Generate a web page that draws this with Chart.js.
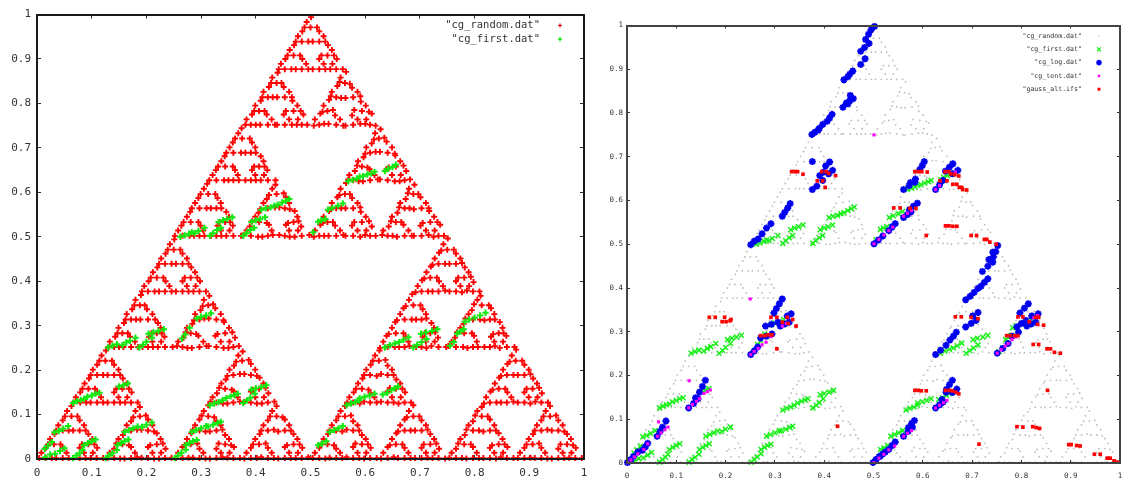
<!DOCTYPE html>
<html>
<head>
<meta charset="utf-8">
<title>cg plots</title>
<script src="https://cdn.jsdelivr.net/npm/chart.js@4"></script>
<style>
  body { margin: 0; background: #fff; overflow: hidden; }
  canvas { position: absolute; top: 0; }
  #plotLeft { left: 0; }
  #plotRight { left: 596px; }
</style>
</head>
<body>
<canvas id="plotLeft" width="592" height="481"></canvas>
<canvas id="plotRight" width="530" height="481"></canvas>
<script>
// values
const tickLabels = ['0', '0.1', '0.2', '0.3', '0.4', '0.5', '0.6', '0.7', '0.8', '0.9', '1'];
const cgRandomX = [
  .004,.027,.016,.035,.058,.047,.020,.043,.032,.066,.089,.078,.098,.121,.110,.082,.105,.094,.035,.058,.047,.066,.089,.078,.051,.074,.063,
  .129,.152,.141,.160,.183,.172,.145,.168,.157,.191,.214,.203,.223,.246,.235,.207,.230,.219,.160,.183,.172,.191,.214,.203,.176,.199,.188,
  .067,.090,.079,.098,.121,.110,.083,.106,.095,.129,.152,.141,.161,.184,.173,.145,.168,.157,.098,.121,.110,.129,.152,.141,.114,.137,.126,
  .254,.277,.266,.285,.308,.297,.270,.293,.282,.316,.339,.328,.348,.371,.360,.332,.355,.344,.285,.308,.297,.316,.339,.328,.301,.324,.313,
  .379,.402,.391,.410,.433,.422,.395,.418,.407,.441,.464,.453,.473,.496,.485,.457,.480,.469,.410,.433,.422,.441,.464,.453,.426,.449,.438,
  .317,.340,.329,.348,.371,.360,.333,.356,.345,.379,.402,.391,.411,.434,.423,.395,.418,.407,.348,.371,.360,.379,.402,.391,.364,.387,.376,
  .131,.150,.143,.158,.185,.170,.147,.166,.159,.193,.212,.205,.221,.248,.233,.209,.228,.221,.162,.181,.174,.189,.216,.201,.178,.197,.190,
  .256,.275,.268,.283,.310,.295,.272,.291,.284,.314,.341,.326,.350,.369,.362,.330,.357,.342,.287,.306,.299,.314,.341,.326,.303,.322,.315,
  .192,.215,.204,.223,.246,.235,.208,.231,.220,.254,.277,.266,.286,.309,.298,.270,.293,.282,.223,.246,.235,.254,.277,.266,.239,.262,.251,
  .504,.527,.516,.535,.558,.547,.520,.543,.532,.566,.589,.578,.598,.621,.610,.582,.605,.594,.535,.558,.547,.566,.589,.578,.551,.574,.563,
  .629,.652,.641,.660,.683,.672,.645,.668,.657,.691,.714,.703,.723,.746,.735,.707,.730,.719,.660,.683,.672,.691,.714,.703,.676,.699,.688,
  .567,.590,.579,.598,.621,.610,.583,.606,.595,.629,.652,.641,.661,.684,.673,.645,.668,.657,.598,.621,.610,.629,.652,.641,.614,.637,.626,
  .754,.777,.766,.785,.808,.797,.770,.793,.782,.816,.839,.828,.848,.871,.860,.832,.855,.844,.785,.808,.797,.816,.839,.828,.801,.824,.813,
  .879,.902,.891,.910,.933,.922,.895,.918,.907,.941,.964,.953,.973,.996,.985,.957,.980,.969,.910,.933,.922,.941,.964,.953,.926,.949,.938,
  .817,.840,.829,.848,.871,.860,.833,.856,.845,.879,.902,.891,.911,.934,.923,.895,.918,.907,.848,.871,.860,.879,.902,.891,.864,.887,.876,
  .627,.654,.639,.662,.681,.674,.643,.670,.655,.693,.712,.705,.721,.748,.733,.709,.728,.721,.658,.685,.670,.693,.712,.705,.674,.701,.686,
  .752,.779,.764,.787,.806,.799,.768,.795,.780,.818,.837,.830,.846,.873,.858,.834,.853,.846,.783,.810,.795,.818,.837,.830,.799,.826,.811,
  .692,.715,.704,.723,.746,.735,.708,.731,.720,.754,.777,.766,.786,.809,.798,.770,.793,.782,.723,.746,.735,.754,.777,.766,.739,.762,.751,
  .252,.279,.264,.287,.306,.299,.268,.295,.280,.318,.337,.330,.346,.373,.358,.334,.353,.346,.283,.310,.295,.318,.337,.330,.299,.326,.311,
  .377,.404,.389,.412,.431,.424,.393,.420,.405,.443,.462,.455,.471,.498,.483,.459,.478,.471,.408,.435,.420,.443,.462,.455,.424,.451,.436,
  .315,.342,.327,.350,.369,.362,.331,.358,.343,.381,.400,.393,.409,.436,.421,.397,.416,.409,.346,.373,.358,.381,.400,.393,.362,.389,.374,
  .506,.525,.518,.533,.560,.545,.522,.541,.534,.564,.591,.576,.600,.619,.612,.580,.607,.592,.537,.556,.549,.564,.591,.576,.553,.572,.565,
  .631,.650,.643,.658,.685,.670,.647,.666,.659,.689,.716,.701,.725,.744,.737,.705,.732,.717,.662,.681,.674,.689,.716,.701,.678,.697,.690,
  .569,.588,.581,.596,.623,.608,.585,.604,.597,.627,.654,.639,.663,.682,.675,.643,.670,.655,.600,.619,.612,.627,.654,.639,.616,.635,.628,
  .381,.400,.393,.408,.435,.420,.397,.416,.409,.439,.466,.451,.475,.494,.487,.455,.482,.467,.412,.431,.424,.439,.466,.451,.428,.447,.440,
  .506,.525,.518,.533,.560,.545,.522,.541,.534,.564,.591,.576,.600,.619,.612,.580,.607,.592,.537,.556,.549,.564,.591,.576,.553,.572,.565,
  .442,.465,.454,.473,.496,.485,.458,.481,.470,.504,.527,.516,.536,.559,.548,.520,.543,.532,.473,.496,.485,.504,.527,.516,.489,.512,.501
];
const cgRandomY = [
  .002,.002,.025,.002,.002,.025,.033,.033,.056,.002,.002,.025,.002,.002,.025,.033,.033,.056,.064,.064,.087,.064,.064,.087,.096,.096,.119,
  .003,.001,.023,.001,.004,.027,.035,.031,.054,.003,.001,.027,.001,.003,.023,.031,.035,.058,.062,.066,.085,.066,.062,.089,.094,.098,.117,
  .127,.127,.150,.127,.127,.150,.158,.158,.181,.127,.127,.150,.127,.127,.150,.158,.158,.181,.189,.189,.212,.189,.189,.212,.221,.221,.244,
  .002,.003,.027,.003,.001,.023,.031,.035,.058,.001,.004,.023,.003,.002,.027,.035,.031,.054,.066,.062,.089,.062,.066,.085,.098,.094,.121,
  .001,.002,.025,.004,.002,.025,.033,.035,.056,.001,.002,.027,.002,.004,.025,.031,.033,.056,.064,.066,.087,.062,.064,.089,.096,.094,.119,
  .129,.125,.148,.125,.129,.152,.160,.156,.179,.129,.125,.152,.125,.129,.148,.156,.160,.183,.187,.191,.210,.191,.187,.214,.219,.223,.242,
  .252,.252,.275,.252,.252,.275,.283,.283,.306,.252,.252,.275,.252,.252,.275,.283,.283,.306,.314,.314,.337,.314,.314,.337,.346,.346,.369,
  .254,.250,.273,.250,.254,.277,.285,.281,.304,.254,.250,.277,.250,.254,.273,.281,.285,.308,.312,.316,.335,.316,.312,.339,.344,.348,.367,
  .377,.377,.400,.377,.377,.400,.408,.408,.431,.377,.377,.400,.377,.377,.400,.408,.408,.431,.439,.439,.462,.439,.439,.462,.471,.471,.494,
  .002,.001,.025,.003,.002,.023,.033,.031,.056,.004,.002,.027,.001,.002,.025,.035,.033,.054,.064,.062,.087,.066,.064,.085,.096,.098,.119,
  .001,.004,.027,.002,.002,.025,.031,.033,.058,.002,.003,.025,.002,.001,.023,.033,.035,.056,.062,.064,.089,.064,.066,.087,.094,.096,.121,
  .127,.125,.150,.129,.127,.148,.158,.156,.181,.129,.127,.152,.125,.127,.150,.160,.158,.179,.189,.187,.212,.191,.189,.210,.221,.223,.244,
  .003,.002,.023,.001,.002,.027,.035,.033,.054,.002,.001,.025,.004,.002,.027,.031,.033,.058,.066,.064,.085,.062,.064,.089,.098,.096,.117,
  .002,.003,.025,.002,.001,.025,.033,.035,.056,.001,.002,.023,.003,.002,.025,.033,.031,.056,.064,.066,.087,.064,.062,.087,.096,.098,.119,
  .125,.127,.152,.127,.129,.150,.156,.158,.183,.127,.125,.150,.129,.127,.148,.158,.160,.181,.187,.189,.214,.189,.191,.212,.219,.221,.246,
  .250,.252,.277,.252,.254,.275,.281,.283,.308,.252,.250,.275,.254,.252,.273,.283,.285,.306,.312,.314,.339,.314,.316,.337,.344,.346,.371,
  .254,.252,.273,.250,.252,.277,.285,.283,.304,.252,.254,.275,.250,.252,.277,.281,.283,.308,.316,.314,.335,.312,.314,.339,.348,.346,.367,
  .375,.377,.402,.377,.379,.400,.406,.408,.433,.377,.375,.400,.379,.377,.398,.408,.410,.431,.437,.439,.464,.439,.441,.462,.469,.471,.496,
  .502,.502,.525,.502,.502,.525,.533,.533,.556,.502,.502,.525,.502,.502,.525,.533,.533,.556,.564,.564,.587,.564,.564,.587,.596,.596,.619,
  .504,.500,.523,.500,.504,.527,.535,.531,.554,.504,.500,.527,.500,.504,.523,.531,.535,.558,.562,.566,.585,.566,.562,.589,.594,.598,.617,
  .627,.627,.650,.627,.627,.650,.658,.658,.681,.627,.627,.650,.627,.627,.650,.658,.658,.681,.689,.689,.712,.689,.689,.712,.721,.721,.744,
  .500,.502,.527,.502,.504,.525,.531,.533,.558,.502,.500,.525,.504,.502,.523,.533,.535,.556,.562,.564,.589,.564,.566,.587,.594,.596,.621,
  .504,.502,.523,.500,.502,.527,.535,.533,.554,.502,.504,.525,.500,.502,.527,.531,.533,.558,.566,.564,.585,.562,.564,.589,.598,.596,.617,
  .629,.625,.648,.625,.629,.652,.660,.656,.679,.629,.625,.652,.625,.629,.648,.656,.660,.683,.687,.691,.710,.691,.687,.714,.719,.723,.742,
  .752,.752,.775,.752,.752,.775,.783,.783,.806,.752,.752,.775,.752,.752,.775,.783,.783,.806,.814,.814,.837,.814,.814,.837,.846,.846,.869,
  .750,.754,.777,.754,.750,.773,.781,.785,.808,.750,.754,.773,.754,.750,.777,.785,.781,.804,.816,.812,.839,.812,.816,.835,.848,.844,.871,
  .877,.877,.900,.877,.877,.900,.908,.908,.931,.877,.877,.900,.877,.877,.900,.908,.908,.931,.939,.939,.962,.939,.939,.962,.971,.971,.994
];
// more of the same cloud, the runs along the small triangle bases
const cgRandomBaseX = [
  .016,.047,.031,.078,.109,.094,.047,.078,.063,
  .141,.172,.156,.203,.234,.219,.172,.203,.188,
  .079,.110,.094,.141,.172,.156,.110,.141,.125,
  .266,.297,.281,.328,.359,.344,.297,.328,.313,
  .391,.422,.406,.453,.484,.469,.422,.453,.438,
  .328,.359,.344,.391,.422,.406,.359,.391,.375,
  .141,.172,.156,.203,.234,.219,.172,.203,.188,
  .266,.297,.281,.328,.359,.344,.297,.328,.313,
  .203,.234,.219,.266,.297,.281,.234,.266,.250,
  .516,.547,.531,.578,.609,.594,.547,.578,.563,
  .641,.672,.656,.703,.734,.719,.672,.703,.688,
  .578,.609,.594,.641,.672,.656,.609,.641,.625,
  .766,.797,.781,.828,.859,.844,.797,.828,.813,
  .891,.922,.906,.953,.984,.969,.922,.953,.938,
  .828,.859,.844,.891,.922,.906,.859,.891,.875,
  .641,.672,.656,.703,.734,.719,.672,.703,.688,
  .766,.797,.781,.828,.859,.844,.797,.828,.813,
  .703,.734,.719,.766,.797,.781,.734,.766,.750,
  .266,.297,.281,.328,.359,.344,.297,.328,.313,
  .391,.422,.406,.453,.484,.469,.422,.453,.438,
  .328,.359,.344,.391,.422,.406,.359,.391,.375,
  .516,.547,.531,.578,.609,.594,.547,.578,.563,
  .641,.672,.656,.703,.734,.719,.672,.703,.688,
  .578,.609,.594,.641,.672,.656,.609,.641,.625,
  .391,.422,.406,.453,.484,.469,.422,.453,.438,
  .516,.547,.531,.578,.609,.594,.547,.578,.563,
  .453,.484,.469,.516,.547,.531,.484,.516,.500
];
const cgRandomBaseY = [
  .002,.002,.033,.002,.002,.033,.064,.064,.096,
  .002,.002,.033,.002,.002,.033,.064,.064,.096,
  .127,.127,.158,.127,.127,.158,.189,.189,.221,
  .002,.002,.033,.002,.002,.033,.064,.064,.096,
  .002,.002,.033,.002,.002,.033,.064,.064,.096,
  .127,.127,.158,.127,.127,.158,.189,.189,.221,
  .252,.252,.283,.252,.252,.283,.314,.314,.346,
  .252,.252,.283,.252,.252,.283,.314,.314,.346,
  .377,.377,.408,.377,.377,.408,.439,.439,.471,
  .002,.002,.033,.002,.002,.033,.064,.064,.096,
  .002,.002,.033,.002,.002,.033,.064,.064,.096,
  .127,.127,.158,.127,.127,.158,.189,.189,.221,
  .002,.002,.033,.002,.002,.033,.064,.064,.096,
  .002,.002,.033,.002,.002,.033,.064,.064,.096,
  .127,.127,.158,.127,.127,.158,.189,.189,.221,
  .252,.252,.283,.252,.252,.283,.314,.314,.346,
  .252,.252,.283,.252,.252,.283,.314,.314,.346,
  .377,.377,.408,.377,.377,.408,.439,.439,.471,
  .502,.502,.533,.502,.502,.533,.564,.564,.596,
  .502,.502,.533,.502,.502,.533,.564,.564,.596,
  .627,.627,.658,.627,.627,.658,.689,.689,.721,
  .502,.502,.533,.502,.502,.533,.564,.564,.596,
  .502,.502,.533,.502,.502,.533,.564,.564,.596,
  .627,.627,.658,.627,.627,.658,.689,.689,.721,
  .752,.752,.783,.752,.752,.783,.814,.814,.846,
  .752,.752,.783,.752,.752,.783,.814,.814,.846,
  .877,.877,.908,.877,.877,.908,.939,.939,.971
];
// and the ones along the slanted sides
const cgRandomSideX = [
  .008,.054,.024,.086,.102,.101,.039,.086,.055,
  .133,.179,.149,.211,.227,.226,.164,.211,.180,
  .071,.117,.087,.149,.165,.164,.102,.149,.118,
  .258,.304,.274,.336,.352,.351,.289,.336,.305,
  .383,.429,.399,.461,.477,.476,.414,.461,.430,
  .321,.367,.337,.399,.415,.414,.352,.399,.368,
  .133,.179,.149,.211,.227,.226,.164,.211,.180,
  .258,.304,.274,.336,.352,.351,.289,.336,.305,
  .196,.242,.212,.274,.290,.289,.227,.274,.243,
  .508,.554,.524,.586,.602,.601,.539,.586,.555,
  .633,.679,.649,.711,.727,.726,.664,.711,.680,
  .571,.617,.587,.649,.665,.664,.602,.649,.618,
  .758,.804,.774,.836,.852,.851,.789,.836,.805,
  .883,.929,.899,.961,.977,.976,.914,.961,.930,
  .821,.867,.837,.899,.915,.914,.852,.899,.868,
  .633,.679,.649,.711,.727,.726,.664,.711,.680,
  .758,.804,.774,.836,.852,.851,.789,.836,.805,
  .696,.742,.712,.774,.790,.789,.727,.774,.743,
  .258,.304,.274,.336,.352,.351,.289,.336,.305,
  .383,.429,.399,.461,.477,.476,.414,.461,.430,
  .321,.367,.337,.399,.415,.414,.352,.399,.368,
  .508,.554,.524,.586,.602,.601,.539,.586,.555,
  .633,.679,.649,.711,.727,.726,.664,.711,.680,
  .571,.617,.587,.649,.665,.664,.602,.649,.618,
  .383,.429,.399,.461,.477,.476,.414,.461,.430,
  .508,.554,.524,.586,.602,.601,.539,.586,.555,
  .446,.492,.462,.524,.540,.539,.477,.524,.493
];
const cgRandomSideY = [
  .014,.014,.045,.014,.014,.045,.076,.076,.108,
  .014,.014,.045,.014,.014,.045,.076,.076,.108,
  .139,.139,.170,.139,.139,.170,.201,.201,.233,
  .014,.014,.045,.014,.014,.045,.076,.076,.108,
  .014,.014,.045,.014,.014,.045,.076,.076,.108,
  .139,.139,.170,.139,.139,.170,.201,.201,.233,
  .264,.264,.295,.264,.264,.295,.326,.326,.358,
  .264,.264,.295,.264,.264,.295,.326,.326,.358,
  .389,.389,.420,.389,.389,.420,.451,.451,.483,
  .014,.014,.045,.014,.014,.045,.076,.076,.108,
  .014,.014,.045,.014,.014,.045,.076,.076,.108,
  .139,.139,.170,.139,.139,.170,.201,.201,.233,
  .014,.014,.045,.014,.014,.045,.076,.076,.108,
  .014,.014,.045,.014,.014,.045,.076,.076,.108,
  .139,.139,.170,.139,.139,.170,.201,.201,.233,
  .264,.264,.295,.264,.264,.295,.326,.326,.358,
  .264,.264,.295,.264,.264,.295,.326,.326,.358,
  .389,.389,.420,.389,.389,.420,.451,.451,.483,
  .514,.514,.545,.514,.514,.545,.576,.576,.608,
  .514,.514,.545,.514,.514,.545,.576,.576,.608,
  .639,.639,.670,.639,.639,.670,.701,.701,.733,
  .514,.514,.545,.514,.514,.545,.576,.576,.608,
  .514,.514,.545,.514,.514,.545,.576,.576,.608,
  .639,.639,.670,.639,.639,.670,.701,.701,.733,
  .764,.764,.795,.764,.764,.795,.826,.826,.858,
  .764,.764,.795,.764,.764,.795,.826,.826,.858,
  .889,.889,.920,.889,.889,.920,.951,.951,.983
];
const cgFirst = [
  [.014,.023],[.02,.03],[.027,.038],[.015,.004],[.024,.01],[.033,.012],[.042,.018],[.05,.024],
  [.032,.06],[.04,.063],[.048,.068],[.057,.074],[.066,.126],[.073,.13],[.08,.133],[.086,.135],[.092,.14],[.1,.143],[.107,.147],[.114,.149],
  [.15,.163],[.158,.166],[.166,.17],[.066,.002],[.072,.008],[.078,.013],[.083,.02],[.086,.031],[.093,.036],[.1,.04],[.107,.044],
  [.126,.002],[.132,.008],[.138,.013],[.146,.02],[.147,.031],[.154,.036],[.16,.04],[.167,.044],
  [.16,.061],[.168,.065],[.176,.069],[.184,.073],[.192,.072],[.2,.077],[.21,.082],
  [.13,.251],[.138,.255],[.146,.258],[.156,.256],[.163,.262],[.17,.266],[.18,.273],[.187,.251],[.194,.257],[.2,.264],[.21,.273],
  [.204,.282],[.213,.285],[.222,.288],[.232,.292],
  [.252,.002],[.258,.008],[.264,.014],[.272,.021],[.272,.031],[.279,.036],[.285,.04],[.292,.043],
  [.283,.061],[.291,.065],[.3,.069],[.309,.074],[.313,.073],[.322,.077],[.33,.081],[.336,.084],
  [.316,.121],[.324,.125],[.332,.128],[.339,.132],[.346,.137],[.354,.141],[.361,.144],[.367,.147],
  [.377,.126],[.384,.132],[.39,.138],[.398,.147],[.392,.156],[.4,.159],[.41,.162],[.419,.166],
  [.265,.271],[.271,.28],[.279,.295],[.292,.316],[.3,.32],[.309,.323],[.318,.328],
  [.262,.5],[.27,.503],[.278,.507],[.283,.51],[.288,.508],[.295,.513],[.306,.52],
  [.316,.502],[.322,.508],[.329,.515],[.336,.52],[.332,.533],[.34,.537],[.348,.54],[.357,.544],
  [.377,.502],[.383,.508],[.39,.515],[.397,.52],[.392,.533],[.4,.537],[.408,.54],[.417,.544],
  [.41,.561],[.418,.564],[.427,.566],[.434,.57],[.44,.572],[.448,.577],[.455,.581],[.461,.585],
  [.569,.625],[.577,.628],[.585,.631],[.59,.635],[.596,.636],[.604,.64],[.611,.643],[.617,.646],
  [.636,.648],[.642,.653],[.65,.657],[.656,.662],[.532,.561],[.54,.565],[.55,.57],[.559,.575],
  [.514,.534],[.52,.537],[.527,.54],[.505,.51],
  [.636,.251],[.645,.256],[.654,.26],[.662,.263],[.67,.268],[.679,.274],
  [.688,.251],[.695,.257],[.703,.263],[.712,.27],[.702,.282],[.711,.285],[.722,.288],[.732,.292],
  [.566,.121],[.574,.125],[.582,.128],[.589,.132],[.59,.137],[.599,.14],[.608,.143],[.617,.147],
  [.535,.061],[.543,.065],[.551,.069],[.559,.074],[.514,.031],[.521,.035],[.529,.04],
  [.632,.145],[.64,.149],[.648,.155],[.654,.159],[.66,.163],
  [.782,.309],[.79,.314],[.8,.318],[.81,.323],[.82,.329],[.755,.255],[.762,.263],[.768,.282],[.774,.287],[.78,.292]
];
const cgLog = [
  [.375,.751],[.381,.756],[.388,.761],[.39,.765],[.397,.774],[.406,.781],[.411,.789],[.416,.797],
  [.438,.813],[.448,.821],[.445,.823],[.452,.828],[.459,.833],[.453,.84],
  [.44,.876],[.448,.883],[.452,.889],[.458,.896],[.474,.911],[.483,.924],[.474,.941],[.482,.95],[.491,.959],
  [.484,.968],[.49,.98],[.495,.99],[.502,.998],
  [.251,.499],[.258,.507],[.266,.512],[.274,.524],[.283,.537],[.292,.547],
  [.315,.564],[.32,.573],[.326,.583],[.331,.593],[.376,.625],[.385,.633],[.397,.646],[.391,.657],[.399,.665],
  [.403,.679],[.411,.688],[.409,.661],[.417,.669],[.376,.689],
  [.298,.343],[.303,.353],[.309,.364],[.315,.375],[.325,.336],[.333,.341],
  [.001,.001],[.008,.008],[.013,.015],[.022,.025],[.031,.029],[.037,.037],[.042,.045],
  [.061,.061],[.067,.072],[.072,.082],[.079,.096],[.125,.126],[.135,.136],[.144,.147],[.139,.149],[.147,.162],[.153,.175],[.159,.189],
  [.251,.248],[.258,.256],[.265,.265],[.271,.286],[.283,.29],[.294,.295],[.281,.313],[.293,.317],[.306,.322],[.311,.313],[.32,.318],[.329,.322],
  [.561,.625],[.572,.634],[.584,.642],[.575,.641],[.585,.649],[.594,.671],[.599,.68],[.603,.689],
  [.626,.625],[.634,.636],[.641,.646],[.646,.667],[.654,.676],[.661,.684],[.66,.661],[.671,.669],
  [.561,.561],[.569,.568],[.576,.574],[.573,.579],[.581,.587],[.589,.594],
  [.501,.501],[.51,.51],[.519,.519],[.531,.531],[.538,.54],[.544,.547],
  [.743,.471],[.748,.483],[.752,.497],[.734,.465],[.742,.482],[.721,.438],[.732,.45],[.742,.459],
  [.718,.404],[.725,.413],[.732,.421],[.687,.373],[.696,.381],[.704,.39],[.712,.399],
  [.797,.343],[.806,.354],[.814,.364],[.821,.336],[.834,.341],[.701,.336],[.712,.344],
  [.626,.248],[.636,.258],[.647,.269],[.655,.281],[.662,.29],[.668,.299],
  [.687,.311],[.698,.319],[.708,.326],[.751,.251],[.762,.262],[.773,.273],[.781,.29],[.794,.299],
  [.791,.311],[.8,.319],[.809,.326],[.811,.313],[.82,.318],[.829,.322],
  [.626,.126],[.634,.133],[.641,.139],[.639,.145],[.647,.162],[.648,.168],[.654,.179],[.66,.189],[.66,.161],[.669,.169],
  [.561,.061],[.57,.072],[.579,.082],[.571,.081],[.577,.09],[.583,.097],
  [.499,.001],[.505,.008],[.511,.014],[.514,.016],[.519,.021],[.524,.025],[.531,.031],[.538,.04],[.544,.048]
];
const cgTent = [
  [.001,.001],[.008,.007],[.015,.014],[.022,.021],[.034,.031],[.042,.044],[.062,.061],[.069,.069],[.077,.076],[.083,.082],
  [.125,.126],[.133,.134],[.141,.141],[.147,.147],[.156,.159],[.163,.163],[.169,.167],[.126,.188],[.064,.094],
  [.251,.248],[.258,.255],[.266,.262],[.274,.27],[.282,.276],[.292,.289],[.315,.313],[.323,.319],
  [.626,.625],[.634,.634],[.666,.665],[.501,.501],[.511,.511],[.521,.521],[.531,.531],[.539,.539],
  [.561,.564],[.569,.571],[.577,.577],[.825,.332],[.833,.337],
  [.501,.001],[.511,.011],[.521,.02],[.531,.03],[.543,.039],[.561,.061],[.569,.068],[.577,.074],
  [.626,.126],[.634,.132],[.642,.138],[.649,.143],[.751,.251],[.759,.259],[.767,.267],[.773,.273],[.781,.282],[.789,.288],
  [.25,.375],[.501,.75]
];
const gaussAlt = [
  [.584,.666],[.591,.666],[.598,.666],[.609,.665],[.645,.666],[.653,.666],[.657,.661],[.665,.659],[.673,.656],[.635,.645],[.649,.645],
  [.661,.637],[.669,.637],[.674,.63],[.679,.63],[.681,.625],[.689,.624],[.541,.583],[.554,.583],[.574,.582],[.586,.582],
  [.646,.542],[.653,.542],[.661,.541],[.669,.541],[.607,.52],[.698,.52],[.709,.52],[.725,.511],[.73,.511],[.736,.505],[.749,.5],
  [.666,.334],[.678,.334],[.698,.333],[.712,.33],[.793,.334],[.803,.334],[.829,.333],[.835,.333],
  [.584,.166],[.591,.166],[.597,.165],[.607,.165],[.646,.166],[.654,.166],[.66,.165],[.667,.162],[.673,.158],
  [.714,.043],[.791,.083],[.803,.082],[.823,.083],[.83,.081],[.837,.079],[.853,.166],
  [.896,.042],[.901,.042],[.912,.04],[.919,.039],[.948,.02],[.96,.02],[.974,.011],[.98,.011],[.988,.005],[.995,.002],
  [.77,.291],[.777,.291],[.786,.291],[.793,.291],[.816,.323],[.833,.317],[.845,.315],
  [.824,.271],[.835,.271],[.852,.261],[.859,.261],[.867,.253],[.879,.251],[.427,.084],[.304,.261],
  [.271,.291],[.279,.291],[.286,.293],[.294,.293],[.193,.323],[.201,.323],[.209,.325],
  [.334,.666],[.341,.666],[.346,.666],[.357,.66],[.386,.645],[.397,.645],[.395,.666],[.404,.666],[.409,.662],[.423,.657],[.402,.63],
  [.167,.333],[.179,.333],[.198,.333],[.211,.328],[.292,.333],[.304,.333],[.325,.333],[.336,.328],[.315,.322],[.327,.319],[.343,.313]
];
const tickColor = '#2a2a2a';

// legend text on the left of the marker, the way gnuplot puts it
const keyPlugin = {
  id: 'gnuKey',
  afterDraw(chart, args, opts) {
    const ctx = chart.ctx;
    ctx.save();
    chart.data.datasets.forEach((ds, i) => {
      const y = opts.top + i * opts.step;
      ctx.font = opts.font;
      ctx.fillStyle = '#333';
      ctx.textAlign = 'right';
      ctx.textBaseline = 'middle';
      ctx.fillText(ds.label, opts.textRight, y);
      ctx.fillStyle = ds.pointBackgroundColor;
      ctx.strokeStyle = ds.pointBorderColor;
      ctx.lineWidth = ds.pointBorderWidth * opts.markScale;
      Chart.helpers.drawPoint(ctx, {
        pointStyle: ds.pointStyle,
        radius: ds.pointRadius * opts.markScale,
        borderWidth: ds.pointBorderWidth * opts.markScale,
        rotation: 0
      }, opts.markX, y);
    });
    ctx.restore();
  }
};

function axis(position, m) {
  const isX = position === 'bottom' || position === 'top';
  const main = position === 'bottom' || position === 'left';
  return {
    type: 'linear',
    position: position,
    min: 0,
    max: 1,
    border: { color: m.axisColor, width: 2, z: 1 },
    grid: {
      drawOnChartArea: false,
      tickColor: tickColor,
      tickWidth: 1,
      tickLength: -m.tick
    },
    ticks: {
      display: main,
      stepSize: 0.1,
      autoSkip: false,
      maxRotation: 0,
      color: '#333',
      padding: isX ? m.padX : m.padY,
      font: { family: '"DejaVu Sans Mono"', size: m.fontSize },
      callback: (value, index) => tickLabels[index]
    },
    afterFit(scale) {
      if (isX) scale.height = main ? m.bottom : 0;
      else scale.width = main ? m.left : 0;
      // labels may stick out of the plot box here
      scale.paddingLeft = 0;
      scale.paddingRight = 0;
      scale.paddingTop = 0;
      scale.paddingBottom = 0;
    }
  };
}

function makeChart(id, datasets, m, key) {
  return new Chart(document.getElementById(id), {
    type: 'scatter',
    data: { datasets: datasets },
    plugins: [keyPlugin],
    options: {
      responsive: false,
      animation: false,
      layout: { padding: { left: 0, top: m.top, right: m.right, bottom: 0 } },
      scales: {
        x: axis('bottom', m),
        y: axis('left', m),
        x2: axis('top', m),
        y2: axis('right', m)
      },
      plugins: { legend: { display: false }, tooltip: { enabled: false }, gnuKey: key }
    }
  });
}

function series(label, data, style, radius, width, color, order) {
  return {
    label: label,
    data: data,
    order: order,
    clip: false,
    showLine: false,
    pointStyle: style,
    pointRadius: radius,
    pointBorderWidth: width,
    pointBackgroundColor: color,
    pointBorderColor: color
  };
}

const randomPoints = cgRandomX.map((x, i) => ({ x: x, y: cgRandomY[i] }))
  .concat(cgRandomBaseX.map((x, i) => ({ x: x, y: cgRandomBaseY[i] })))
  .concat(cgRandomSideX.map((x, i) => ({ x: x, y: cgRandomSideY[i] })));
const pairs = list => list.map(p => ({ x: p[0], y: p[1] }));

makeChart('plotLeft', [
  series('"cg_random.dat"', randomPoints, 'cross', 3, 1.9, '#ff0000', 2),
  series('"cg_first.dat"', pairs(cgFirst), 'cross', 3.2, 2, '#10e810', 1)
], { axisColor: '#1a1a1a', tick: 4, padX: 12, padY: 10, fontSize: 11, left: 37, bottom: 22, top: 14.5, right: 8 },
{ font: '10.5px "DejaVu Sans Mono"', textRight: 540, markX: 560, top: 25.5, step: 13.7, markScale: 0.65 });

makeChart('plotRight', [
  series('"cg_random.dat"', randomPoints, 'circle', 0.9, 0, '#bdbdbd', 5),
  series('"cg_first.dat"', pairs(cgFirst), 'crossRot', 3.5, 1.5, '#18f018', 4),
  series('"cg_log.dat"', pairs(cgLog), 'star', 3.5, 2, '#0000f0', 3),
  series('"cg_tent.dat"', pairs(cgTent), 'rect', 2.2, 0, '#ff00ff', 2),
  series('"gauss_alt.ifs"', pairs(gaussAlt), 'rect', 2.6, 0, '#ff0000', 1)
], { axisColor: '#444', tick: 3, padX: 12, padY: 7, fontSize: 7.5, left: 31, bottom: 18, top: 25.5, right: 6 },
{ font: '6.6px "DejaVu Sans Mono"', textRight: 486, markX: 503, top: 36, step: 13.3, markScale: 0.8 });
</script>
</body>
</html>
